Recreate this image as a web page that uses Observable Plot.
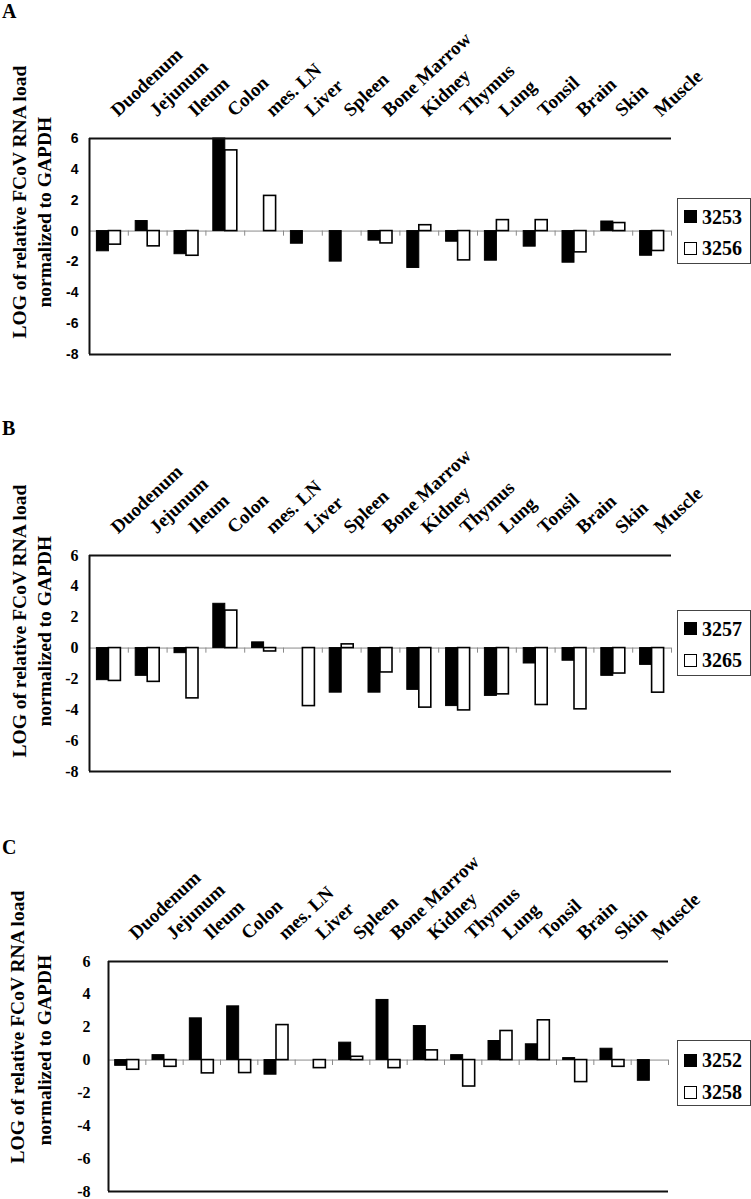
<!DOCTYPE html>
<html>
<head>
<meta charset="utf-8">
<script src="https://cdn.jsdelivr.net/npm/d3@7"></script>
<script src="https://cdn.jsdelivr.net/npm/@observablehq/plot@0.6"></script>
<style>
  html, body { margin: 0; padding: 0; background: #fff; }
  #page { position: relative; width: 751px; height: 1199px; overflow: hidden; background: #fff; }
  .panel { position: absolute; left: 0; }
  .letter { position: absolute; left: 2px; font: bold 20px "Liberation Serif", "Times New Roman", serif; line-height: 20px; color: #000; }
  .legend { position: absolute; left: 677px; width: 74px; height: 66px; box-sizing: border-box; border: 1px solid #444; background: #fff; }
  .legend .sw { position: absolute; left: 6px; width: 13px; height: 13px; box-sizing: border-box; }
  .legend .lb { position: absolute; left: 24px; font: bold 20px "Liberation Serif", "Times New Roman", serif; line-height: 20px; color: #000; }
</style>
</head>
<body>
<div id="page"></div>
<script>
// ---------- data ----------
const tissues = ["Duodenum", "Jejunum", "Ileum", "Colon", "mes. LN", "Liver", "Spleen",
  "Bone Marrow", "Kidney", "Thymus", "Lung", "Tonsil", "Brain", "Skin", "Muscle"];
const yTicks = [6, 4, 2, 0, -2, -4, -6, -8];
const axisTitle1 = "LOG of relative FCoV RNA load";
const axisTitle2 = "normalized to GAPDH";

// Panel A
const namesA = ["3253", "3256"];
const a3253 = [-1.31, 0.65, -1.50, 6.0, null, -0.82, -1.98, -0.62, -2.39, -0.69, -1.92, -1.01, -2.05, 0.62, -1.60];
const a3256 = [-0.88, -0.99, -1.60, 5.23, 2.28, null, null, -0.80, 0.38, -1.90, 0.71, 0.71, -1.38, 0.52, -1.29];
// Panel B
const namesB = ["3257", "3265"];
const b3257 = [-2.08, -1.80, -0.33, 2.87, 0.37, null, -2.89, -2.89, -2.71, -3.76, -3.10, -1.00, -0.82, -1.80, -1.09];
const b3265 = [-2.13, -2.19, -3.26, 2.43, -0.22, -3.76, 0.24, -1.58, -3.86, -4.04, -3.00, -3.69, -3.97, -1.65, -2.89];
// Panel C
const namesC = ["3252", "3258"];
const c3252 = [-0.35, 0.30, 2.54, 3.27, -0.89, null, 1.06, 3.66, 2.07, 0.30, 1.16, 0.96, 0.12, 0.69, -1.26];
const c3258 = [-0.59, -0.41, -0.81, -0.79, 2.13, -0.49, 0.20, -0.49, 0.59, -1.61, 1.77, 2.42, -1.34, -0.41, null];

// ---------- layout ----------
const W = 751;
const SERIF = '"Liberation Serif", "Times New Roman", serif';
const SANS = '"Liberation Sans", Arial, sans-serif';
const panels = [
  {letter: "A", letterTop: 1, top: 0, h: 370, mt: 138, mb: 16, ml: 89, mr: 80,
   names: namesA, s1: a3253, s2: a3256, tickFont: SANS, tickSize: 14, tickPad: 11,
   t1x: 25, t1dy: -16, t2x: 50, t2dy: -47, legendTop: 198, row1: 18.5, row2: 50},
  {letter: "B", letterTop: 418, top: 417, h: 370, mt: 138, mb: 16, ml: 89, mr: 80,
   names: namesB, s1: b3257, s2: b3265, tickFont: SERIF, tickSize: 16, tickPad: 11,
   t1x: 25, t1dy: -14, t2x: 50, t2dy: -45, legendTop: 610, row1: 18.5, row2: 50},
  {letter: "C", letterTop: 837, top: 823, h: 376, mt: 138, mb: 8, ml: 108, mr: 83,
   names: namesC, s1: c3252, s2: c3258, tickFont: SERIF, tickSize: 16, tickPad: 18,
   t1x: 23.5, t1dy: -28, t2x: 50, t2dy: -46, legendTop: 1040, row1: 20, row2: 52}
];

const page = document.getElementById("page");

for (const p of panels) {
  const rows1 = tissues.map((t, i) => ({tissue: t, value: p.s1[i]})).filter(d => d.value != null);
  const rows2 = tissues.map((t, i) => ({tissue: t, value: p.s2[i]})).filter(d => d.value != null);
  const step = (W - p.ml - p.mr) / tissues.length;
  const half = step / 2;
  const bw = 12;

  const chart = Plot.plot({
    width: W,
    height: p.h,
    marginTop: p.mt, marginBottom: p.mb, marginLeft: p.ml, marginRight: p.mr,
    style: {background: "transparent", overflow: "visible", color: "#000",
            fontFamily: p.tickFont, fontSize: p.tickSize + "px", fontWeight: "bold"},
    x: {type: "band", domain: tissues, padding: 0, round: false, axis: null},
    y: {domain: [-8, 6], ticks: yTicks, tickFormat: d => String(d), tickSize: 0,
        tickPadding: p.tickPad, label: null},
    marks: [
      Plot.ruleY([0], {stroke: "#8a8a8a", strokeWidth: 1}),
      Plot.ruleX(tissues, {x: d => d, y1: 0, y2: -0.33, dx: half, stroke: "#8a8a8a", strokeWidth: 1}),
      Plot.barY(rows1, {x: "tissue", y: "value", fill: "#000", stroke: "#000", strokeWidth: 1,
                        insetLeft: half - bw, insetRight: half}),
      Plot.barY(rows2, {x: "tissue", y: "value", fill: "#fff", stroke: "#000", strokeWidth: 1.6,
                        insetLeft: half, insetRight: half - bw}),
      Plot.ruleY([6, -8], {stroke: "#111", strokeWidth: 2}),
      Plot.ruleX([tissues[0]], {x: d => d, y1: -8, y2: 6, dx: -half, stroke: "#111", strokeWidth: 2}),
      Plot.text(tissues, {x: d => d, text: d => d, frameAnchor: "top", dx: 9, dy: -21, rotate: -43,
                          textAnchor: "start", lineAnchor: "bottom", fontFamily: SERIF,
                          fontWeight: "bold", fontSize: 19, fill: "#000"}),
      Plot.text([axisTitle1], {text: d => d, frameAnchor: "bottom-left", dx: p.t1x - p.ml, dy: p.t1dy,
                          rotate: -90, textAnchor: "start", lineAnchor: "bottom", fontFamily: SERIF,
                          fontWeight: "bold", fontSize: 19.5, fill: "#000"}),
      Plot.text([axisTitle2], {text: d => d, frameAnchor: "bottom-left", dx: p.t2x - p.ml, dy: p.t2dy,
                          rotate: -90, textAnchor: "start", lineAnchor: "bottom", fontFamily: SERIF,
                          fontWeight: "bold", fontSize: 19.5, fill: "#000"})
    ]
  });

  const holder = document.createElement("div");
  holder.className = "panel";
  holder.style.top = p.top + "px";
  holder.appendChild(chart);
  page.appendChild(holder);

  const letter = document.createElement("div");
  letter.className = "letter";
  letter.style.top = p.letterTop + "px";
  letter.textContent = p.letter;
  page.appendChild(letter);

  const legend = document.createElement("div");
  legend.className = "legend";
  legend.style.top = p.legendTop + "px";
  [[p.names[0], p.row1, "#000", "none"], [p.names[1], p.row2, "#fff", "1.5px solid #000"]].forEach(([name, cy, fill, border]) => {
    const sw = document.createElement("div");
    sw.className = "sw";
    sw.style.top = (cy - 1 - 6.5) + "px";
    sw.style.background = fill;
    sw.style.border = border;
    legend.appendChild(sw);
    const lb = document.createElement("div");
    lb.className = "lb";
    lb.style.top = (cy - 1 - 10) + "px";
    lb.textContent = name;
    legend.appendChild(lb);
  });
  page.appendChild(legend);
}
</script>
</body>
</html>
